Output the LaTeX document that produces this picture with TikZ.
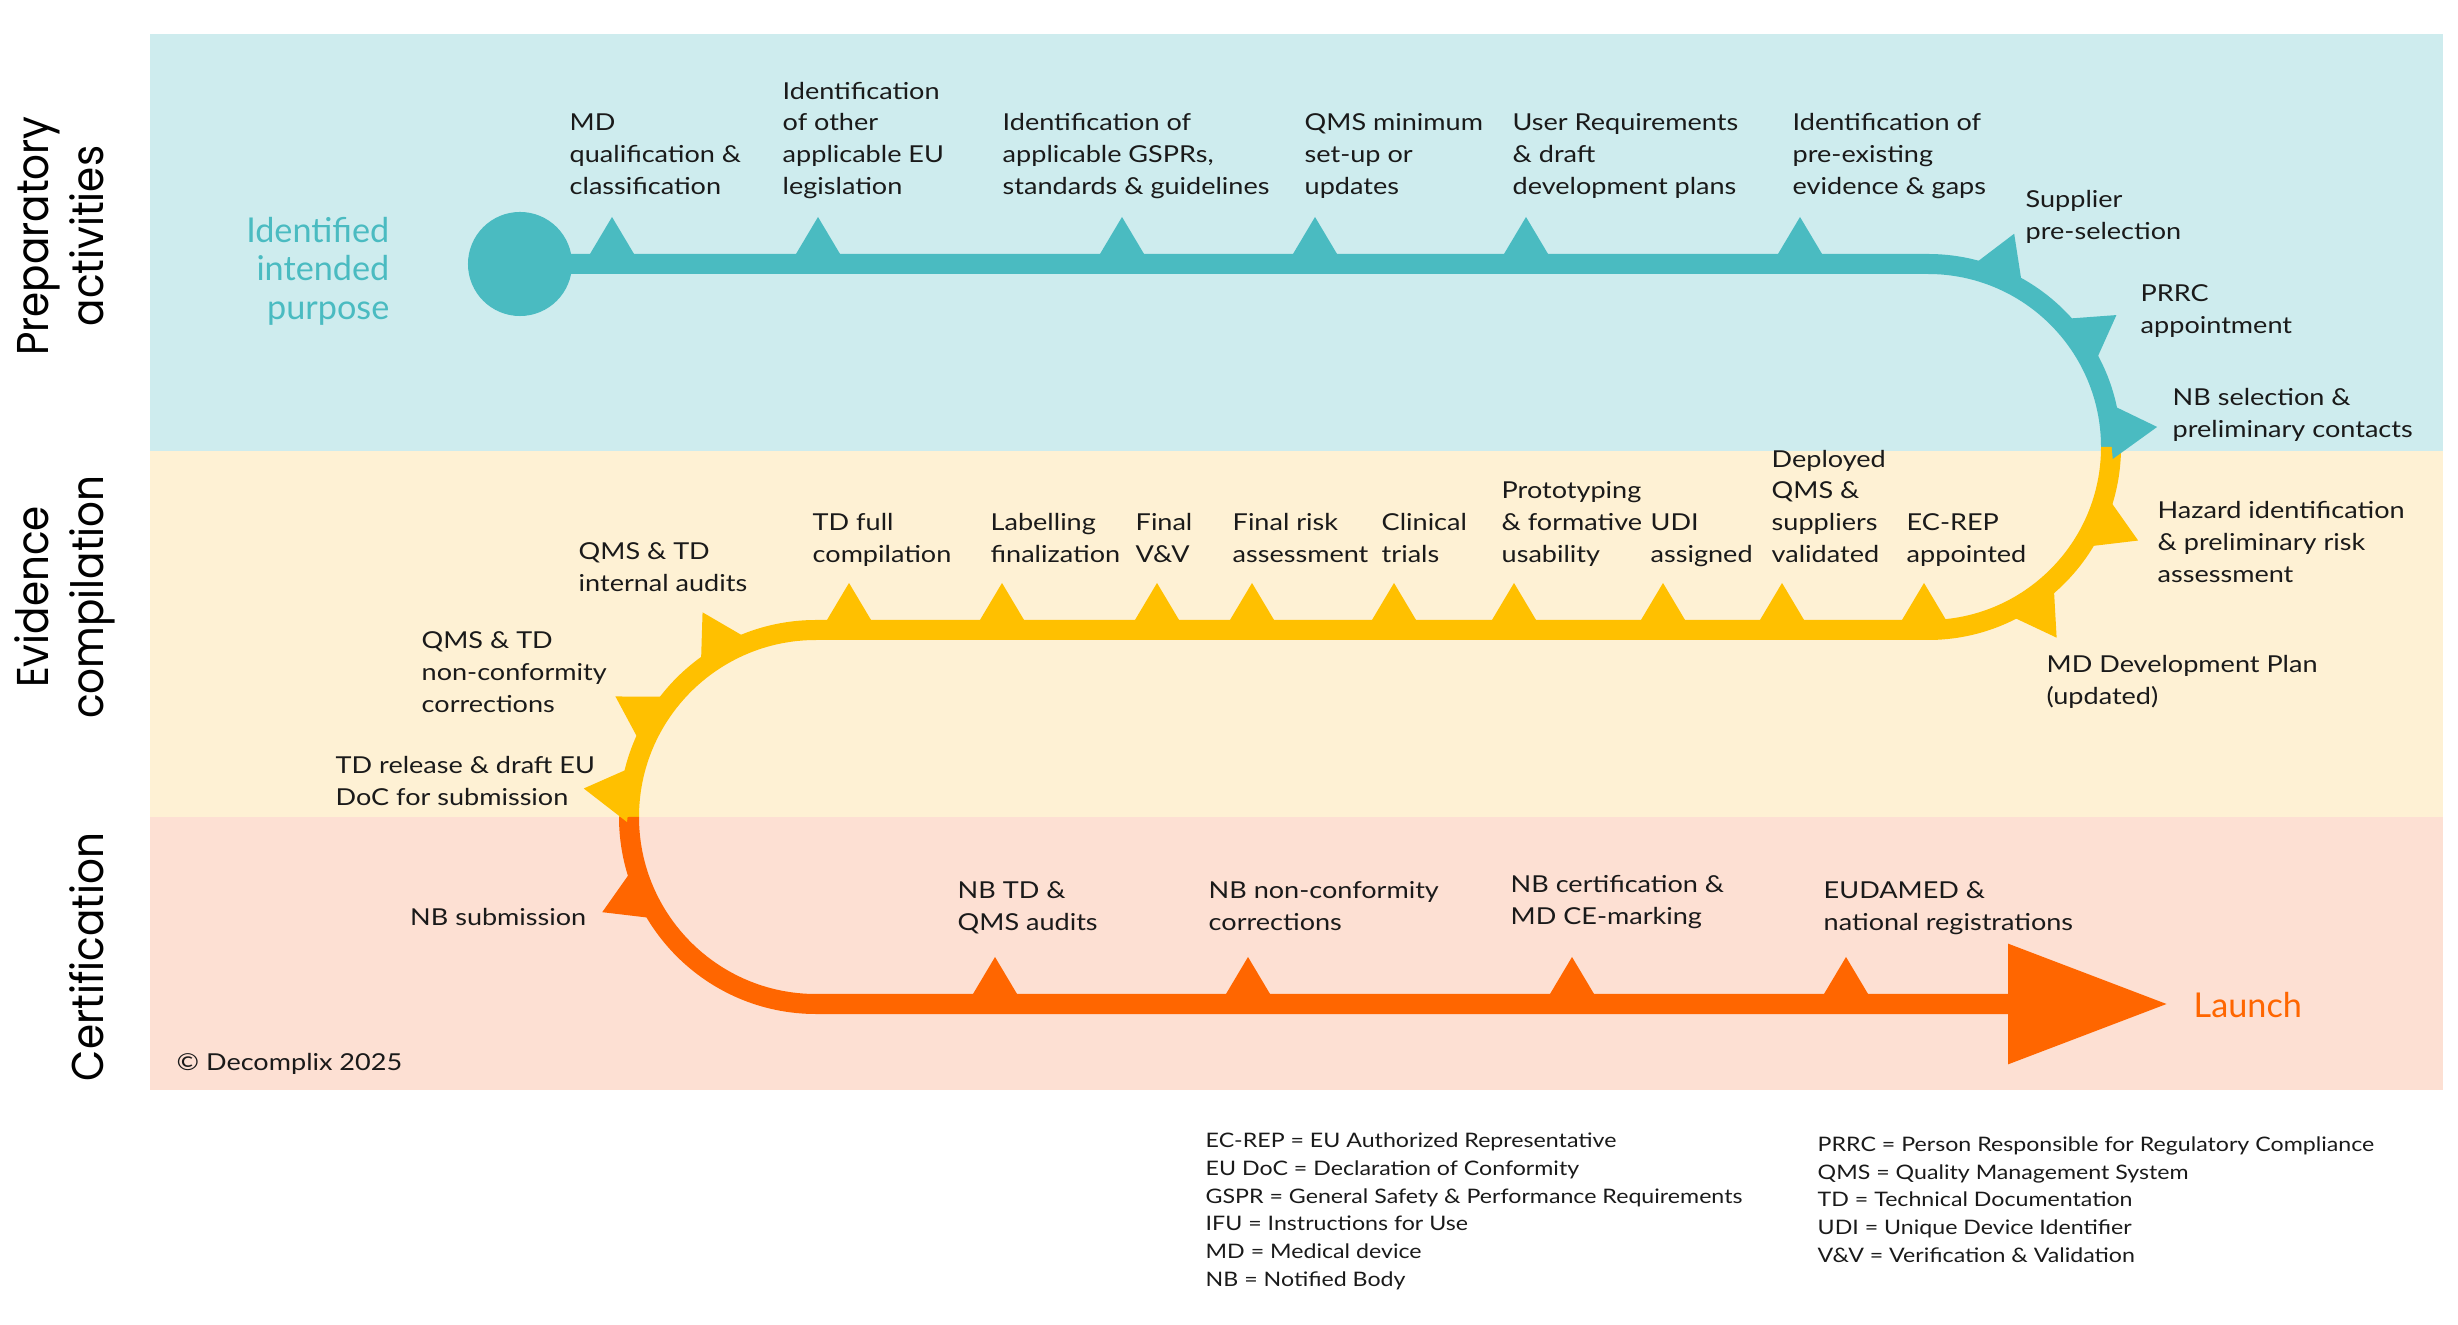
\documentclass[tikz,border=0pt]{standalone}
\usepackage{fontspec}
\setmainfont{Lato}
\newfontfamily\notefont{Lato}[FakeStretch=1.16]
\newfontfamily\titlefont{Poppins}[FakeStretch=0.91]
\usetikzlibrary{arrows.meta, positioning, calc}
\definecolor{tealline}{HTML}{4ABBC1}
\definecolor{tealband}{HTML}{CEECEE}
\definecolor{goldline}{HTML}{FFC000}
\definecolor{goldband}{HTML}{FEF1D4}
\definecolor{orangeline}{HTML}{FF6600}
\definecolor{orangeband}{HTML}{FDE0D3}
\definecolor{textdark}{HTML}{1A1A1A}

\begin{document}
\begin{tikzpicture}[
    x=0.01cm, y=0.01cm,
    % ── Node styles ──────────────────────────────────────────────────────
    note/.style={
        font=\fontsize{6.63}{9.02}\selectfont\notefont,
        text=textdark, align=left, inner sep=0pt,
        text depth=0pt, anchor=south west
    },
    bigtext/.style={
        font=\fontsize{9.73}{10.9}\selectfont,
        inner sep=0pt, text depth=0pt
    },
    bandtitle/.style={
        font=\fontsize{12.66}{15.6}\selectfont\titlefont,
        text=black, align=center, inner sep=0pt,
        text depth=0pt, rotate=90, anchor=south
    },
    legend/.style={
        font=\fontsize{5.68}{7.88}\selectfont\notefont,
        text=textdark, align=left, inner sep=0pt,
        text depth=0pt, anchor=south west
    },
    startdot/.style={
        circle, fill=tealline, inner sep=0pt, minimum size=1.04cm
    },
    % ── Track style ──────────────────────────────────────────────────────
    track/.style={line width=0.2cm, line cap=butt},
    mstone/.pic={\fill (-28,0) -- (0,47) -- (28,0) -- cycle;}
]
\useasboundingbox (0,0) rectangle (2458,1324);

% ═══════════════════════════════════════════════════════════════════════════
% Bands
% ═══════════════════════════════════════════════════════════════════════════
\fill[tealband]   (150,873) rectangle (2443,1290);
\fill[goldband]   (150,507) rectangle (2443,873);
\fill[orangeband] (150,234) rectangle (2443,507);

\node[bandtitle] (preptitle) at (104,1088) {Preparatory\\activities};
\node[bandtitle] (evidtitle) at (104,727) {Evidence\\compilation};
\node[bandtitle] (certtitle) at (104,367) {Certification};

% ═══════════════════════════════════════════════════════════════════════════
% Track
% ═══════════════════════════════════════════════════════════════════════════
\coordinate (rloop) at (1928,877);
\coordinate (lloop) at (816,507);
\coordinate (tip) at (2168,320);

\node[startdot] (origin) at (520,1060) {};
\node[bigtext, text=tealline, align=right, anchor=south east] (purpose)
    at (390,1004) {Identified\\intended\\purpose};

\draw[track, tealline] (origin.center) -- (1928,1060)
    arc[start angle=90, end angle=0, radius=183];
\draw[track, goldline] ($(rloop)+(0:183)$)
    arc[start angle=0, end angle=-90, radius=183] -- ($(lloop)+(0,187)$)
    arc[start angle=90, end angle=180, radius=187];
\draw[track, orangeline, -{Triangle[length=45.5pt, width=32.7pt]}]
    ($(lloop)+(180:187)$) arc[start angle=180, end angle=270, radius=187]
    -- (tip);

\node[bigtext, text=orangeline, anchor=base west] (launch) at (2193,307) {Launch};

% ═══════════════════════════════════════════════════════════════════════════
% 1. Preparatory activities
% ═══════════════════════════════════════════════════════════════════════════
\pic[tealline] at (612,1060) {mstone};
\node[note] (mdqual) at (569,1129) {MD\\qualification \&\\classification};

\pic[tealline] at (818,1060) {mstone};
\node[note] (eulegis) at (782,1129) {Identification\\of other\\applicable EU\\legislation};

\pic[tealline] at (1122,1060) {mstone};
\node[note] (gsprs) at (1002,1129) {Identification of\\applicable GSPRs,\\standards \& guidelines};

\pic[tealline] at (1315,1060) {mstone};
\node[note] (qmsmin) at (1304,1129) {QMS minimum\\set-up or\\updates};

\pic[tealline] at (1526,1060) {mstone};
\node[note] (userreq) at (1512,1129) {User Requirements\\\& draft\\development plans};

\pic[tealline] at (1800,1060) {mstone};
\node[note] (gaps) at (1792,1129) {Identification of\\pre-existing\\evidence \& gaps};

\pic[tealline, rotate=-22] at ($(rloop)+(68:183)$) {mstone};
\node[note] (supplier) at (2025,1084) {Supplier\\pre-selection};

\pic[tealline, rotate=-55] at ($(rloop)+(35:183)$) {mstone};
\node[note] (prrc) at (2140,990) {PRRC\\appointment};

\pic[tealline, rotate=-85] at ($(rloop)+(5:183)$) {mstone};
\node[note] (nbsel) at (2172,886) {NB selection \&\\preliminary contacts};

% ═══════════════════════════════════════════════════════════════════════════
% 2. Evidence compilation
% ═══════════════════════════════════════════════════════════════════════════
\pic[goldline, rotate=-114] at ($(rloop)+(-24:183)$) {mstone};
\node[note] (hazard) at (2157,741) {Hazard identification\\\& preliminary risk\\assessment};

\pic[goldline, rotate=-146] at ($(rloop)+(-56:183)$) {mstone};
\node[note] (devplan) at (2046,619) {MD Development Plan\\(updated)};

\pic[goldline] at (1924,694) {mstone};
\node[note] (ecrep) at (1906,761) {EC-REP\\appointed};

\pic[goldline] at (1782,694) {mstone};
\node[note] (deployed) at (1771,761) {Deployed\\QMS \&\\suppliers\\validated};

\pic[goldline] at (1663,694) {mstone};
\node[note] (udi) at (1650,761) {UDI\\assigned};

\pic[goldline] at (1514,694) {mstone};
\node[note] (proto) at (1501,761) {Prototyping\\\& formative\\usability};

\pic[goldline] at (1394,694) {mstone};
\node[note] (clinical) at (1381,761) {Clinical\\trials};

\pic[goldline] at (1252,694) {mstone};
\node[note] (finalrisk) at (1232,761) {Final risk\\assessment};

\pic[goldline] at (1157,694) {mstone};
\node[note] (finalvv) at (1135,761) {Final\\V\&V};

\pic[goldline] at (1002,694) {mstone};
\node[note] (labelling) at (990,761) {Labelling\\finalization};

\pic[goldline] at (849,694) {mstone};
\node[note] (tdfull) at (812,761) {TD full\\compilation};

\pic[goldline, rotate=29] at ($(lloop)+(119:187)$) {mstone};
\node[note] (intaudit) at (578,732) {QMS \& TD\\internal audits};

\pic[goldline, rotate=59] at ($(lloop)+(149:187)$) {mstone};
\node[note] (noncon) at (421,611) {QMS \& TD\\non-conformity\\corrections};

\pic[goldline, rotate=83] at ($(lloop)+(173:187)$) {mstone};
\node[note] (tdrelease) at (335,518) {TD release \& draft EU\\DoC for submission};

% ═══════════════════════════════════════════════════════════════════════════
% 3. Certification
% ═══════════════════════════════════════════════════════════════════════════
\pic[orangeline, rotate=114] at ($(lloop)+(204:187)$) {mstone};
\node[note, anchor=south east] (nbsub) at (587,398) {NB submission};

\pic[orangeline] at (995,320) {mstone};
\node[note] (nbaudit) at (957,393) {NB TD \&\\QMS audits};

\pic[orangeline] at (1248,320) {mstone};
\node[note] (nbnoncon) at (1208,393) {NB non-conformity\\corrections};

\pic[orangeline] at (1572,320) {mstone};
\node[note] (nbcert) at (1510,399) {NB certification \&\\MD CE-marking};

\pic[orangeline] at (1846,320) {mstone};
\node[note] (eudamed) at (1823,393) {EUDAMED \&\\national registrations};

\node[note] (copyright) at (176,253) {© Decomplix 2025};

% ═══════════════════════════════════════════════════════════════════════════
% Abbreviations
% ═══════════════════════════════════════════════════════════════════════════
\node[legend] (abbrevA) at (1205,37) {EC-REP = EU Authorized Representative\\
    EU DoC = Declaration of Conformity\\
    GSPR = General Safety \& Performance Requirements\\
    IFU = Instructions for Use\\
    MD = Medical device\\
    NB = Notified Body};
\node[legend] (abbrevB) at (1817,61) {PRRC = Person Responsible for Regulatory Compliance\\
    QMS = Quality Management System\\
    TD = Technical Documentation\\
    UDI = Unique Device Identifier\\
    V\&V = Verification \& Validation};

\end{tikzpicture}
\end{document}
